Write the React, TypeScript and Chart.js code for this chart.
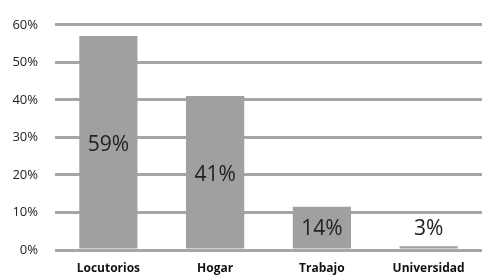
import React, { useEffect, useRef } from "react";
import { Chart, registerables } from "chart.js";

Chart.register(...registerables);

const categories = ["Locutorios", "Hogar", "Trabajo", "Universidad"];
const barValues = [57, 41, 11.5, 1];
const barLabels = ["59%", "41%", "14%", "3%"];
const yTicks = [0, 10, 20, 30, 40, 50, 60];

const FONT = "'Open Sans', 'DejaVu Sans', sans-serif";

const labelPlugin = {
  id: "barLabels",
  afterDatasetsDraw(chart: any) {
    const ctx = chart.ctx;
    const meta = chart.getDatasetMeta(0);
    ctx.save();
    ctx.font = `21px ${FONT}`;
    ctx.fillStyle = "#222222";
    ctx.textAlign = "center";
    ctx.textBaseline = "middle";
    meta.data.forEach((el: any, i: number) => {
      const mid = (el.y + el.base) / 2 + 3;
      const y = Math.min(mid, el.base - 19);
      ctx.fillText(barLabels[i], el.x, y);
    });
    ctx.restore();
  },
};

export default function App() {
  const ref = useRef<HTMLCanvasElement>(null);
  useEffect(() => {
    if (!ref.current) return;
    const chart = new Chart(ref.current, {
      type: "bar",
      data: {
        labels: categories,
        datasets: [
          {
            data: barValues,
            backgroundColor: "#a0a0a0",
            borderWidth: 0,
            barPercentage: 0.545,
            categoryPercentage: 1,
          },
        ],
      },
      options: {
        responsive: false,
        animation: false,
        layout: { padding: { top: 15, left: 0, right: 0, bottom: 0 } },
        plugins: { legend: { display: false }, tooltip: { enabled: false } },
        scales: {
          y: {
            min: 0,
            max: 60,
            afterBuildTicks: (s: any) => {
              s.ticks = yTicks.map((v) => ({ value: v }));
            },
            afterFit: (s: any) => {
              s.width = 55;
            },
            ticks: {
              callback: (v: any) => v + "%",
              font: { family: FONT, size: 13 },
              color: "#222222",
              padding: 17,
            },
            grid: { color: "#a6a6a6", lineWidth: 3, drawTicks: false },
            border: { display: false },
          },
          x: {
            afterFit: (s: any) => {
              s.height = 26;
            },
            grid: { display: false, drawTicks: false },
            border: { display: false },
            ticks: {
              font: { family: FONT, size: 12, weight: "bold" },
              color: "#111111",
              padding: 11,
            },
          },
        },
      },
      plugins: [labelPlugin],
    });
    return () => chart.destroy();
  }, []);
  return (
    <div style={{ position: "fixed", left: 0, top: 0, width: 482, height: 276, background: "#fff" }}>
      <canvas ref={ref} width={482} height={276} style={{ display: "block" }} />
    </div>
  );
}
